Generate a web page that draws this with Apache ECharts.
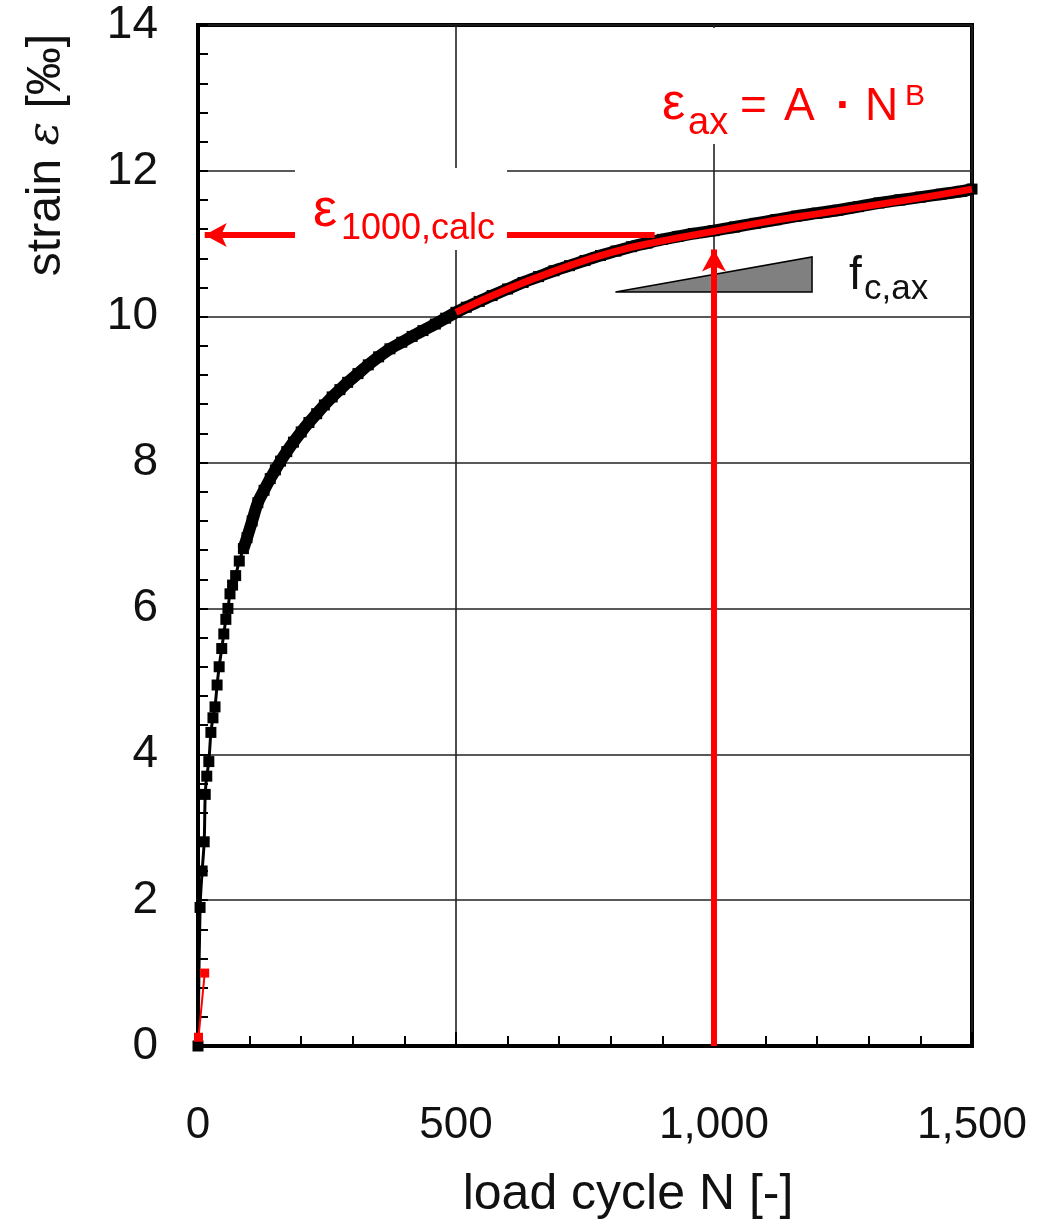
<!DOCTYPE html>
<html>
<head>
<meta charset="utf-8">
<script src="https://cdn.jsdelivr.net/npm/echarts@6/dist/echarts.min.js"></script>
<style>
  html, body { margin: 0; padding: 0; background: #fff; }
  #chart { width: 1055px; height: 1223px; }
</style>
</head>
<body>
<div id="chart"></div>
<script>
// measured load cycles N and strain (‰)
const measuredN = [0, 4, 8, 12, 14, 17, 21, 25, 29, 33, 37, 41, 46, 50, 54, 58, 62, 67, 73, 80, 88, 95, 105, 116, 128, 140, 150, 160, 172, 185, 200, 215, 230, 245, 260, 275, 290, 310, 330, 350, 372, 395, 415, 436, 460, 480, 500, 520, 545, 570, 600, 630, 660, 690, 720, 750, 780, 810, 840, 870, 900, 930, 960, 1000, 1040, 1080, 1120, 1160, 1200, 1240, 1280, 1320, 1360, 1400, 1440, 1480, 1500];
const measuredStrain = [0, 1.9, 2.4, 2.8, 3.45, 3.7, 3.9, 4.3, 4.5, 4.65, 4.95, 5.2, 5.45, 5.65, 5.85, 6.0, 6.2, 6.32, 6.45, 6.65, 6.82, 6.97, 7.2, 7.45, 7.62, 7.78, 7.9, 8.02, 8.15, 8.28, 8.42, 8.55, 8.67, 8.79, 8.9, 9.0, 9.1, 9.22, 9.34, 9.45, 9.56, 9.65, 9.73, 9.81, 9.9, 9.98, 10.06, 10.13, 10.21, 10.29, 10.38, 10.47, 10.55, 10.63, 10.7, 10.77, 10.84, 10.9, 10.96, 11.01, 11.06, 11.1, 11.14, 11.18, 11.23, 11.28, 11.33, 11.38, 11.42, 11.46, 11.51, 11.56, 11.6, 11.64, 11.68, 11.72, 11.75];
// from here on the markers merge into one thick band
const bandStart = 20;

// first readings, drawn red
const startN = [1, 13];
const startStrain = [0.12, 1.0];

// fitted curve eps_ax = A * N^B
const fitN = [500, 600, 700, 800, 900, 1000, 1100, 1200, 1300, 1400, 1500];
const fitStrain = [10.06, 10.38, 10.65, 10.88, 11.04, 11.17, 11.3, 11.41, 11.52, 11.63, 11.75];

// annotation arrows
const calcArrowN = [885, 13];
const calcArrowStrain = 11.12;
const nArrowN = 1000;
const nArrowStrain = [0, 10.92];

// slope triangle f_c,ax
const slopeTriangle = [[809, 10.34], [1190, 10.34], [1190, 10.82]];

const xTicks = [0, 500, 1000, 1500];
const yTicks = [0, 2, 4, 6, 8, 10, 12, 14];

const FONT = '"Liberation Sans", Arial, sans-serif';
const RED = '#ff0000';
const INK = '#111';

const zip = (a, b) => a.map((v, i) => [v, b[i]]);

const chart = echarts.init(document.getElementById('chart'));

const option = {
  animation: false,
  backgroundColor: '#fff',
  grid: {
    left: 198,
    top: 25,
    width: 774,
    height: 1021,
    show: true,
    borderColor: '#000',
    borderWidth: 4,
  },
  xAxis: {
    type: 'value',
    min: xTicks[0],
    max: xTicks[xTicks.length - 1],
    interval: 500,
    axisLine: { lineStyle: { color: '#000', width: 4 } },
    axisTick: { inside: true, length: 14, lineStyle: { color: '#000', width: 2 } },
    minorTick: { show: true, splitNumber: 5, length: 10, lineStyle: { color: '#000', width: 2 } },
    splitLine: { show: true, lineStyle: { color: '#222', width: 1.6 } },
    axisLabel: {
      fontSize: 44,
      fontFamily: FONT,
      color: INK,
      margin: 58,
      formatter: (v) => v.toLocaleString('en-US'),
    },
  },
  yAxis: {
    type: 'value',
    min: yTicks[0],
    max: yTicks[yTicks.length - 1],
    interval: 2,
    axisLine: { show: true, lineStyle: { color: '#000', width: 4 } },
    axisTick: { show: true, inside: true, length: 10, lineStyle: { color: '#000', width: 2 } },
    minorTick: { show: true, splitNumber: 5, length: 10, lineStyle: { color: '#000', width: 2 } },
    splitLine: { show: true, lineStyle: { color: '#222', width: 1.6 } },
    axisLabel: {
      fontSize: 46,
      fontFamily: FONT,
      color: INK,
      margin: 40,
    },
  },
  series: [
    {
      name: 'measured',
      type: 'line',
      data: zip(measuredN, measuredStrain),
      symbol: 'rect',
      symbolSize: 11,
      smooth: 0.3,
      lineStyle: { color: '#000', width: 3 },
      itemStyle: { color: '#000' },
      z: 2,
    },
    {
      // dense part of the measured curve
      name: 'measured band',
      type: 'line',
      data: zip(measuredN, measuredStrain).slice(bandStart),
      showSymbol: false,
      smooth: 0.3,
      lineStyle: { color: '#000', width: 12 },
      z: 2,
    },
    {
      name: 'start',
      type: 'line',
      data: zip(startN, startStrain),
      symbol: 'rect',
      symbolSize: 9,
      lineStyle: { color: RED, width: 2 },
      itemStyle: { color: RED },
      z: 3,
    },
    {
      name: 'fit',
      type: 'line',
      data: zip(fitN, fitStrain),
      smooth: true,
      showSymbol: false,
      lineStyle: { color: RED, width: 7 },
      z: 4,
      markLine: {
        silent: true,
        symbol: ['none', 'arrow'],
        symbolSize: [18, 22],
        label: { show: false },
        lineStyle: { color: RED, width: 6, type: 'solid' },
        data: [
          [
            { coord: [calcArrowN[0], calcArrowStrain] },
            { coord: [calcArrowN[1], calcArrowStrain] },
          ],
          [
            { coord: [nArrowN, nArrowStrain[0]] },
            { coord: [nArrowN, nArrowStrain[1]] },
          ],
        ],
      },
    },
    {
      name: 'slope',
      type: 'custom',
      data: [0],
      z: 3,
      renderItem: (params, api) => ({
        type: 'polygon',
        shape: { points: slopeTriangle.map((p) => api.coord(p)) },
        style: { fill: '#808080', stroke: '#000', lineWidth: 1.5 },
      }),
    },
  ],
  graphic: [
    // white boxes behind the labels
    { type: 'rect', z: 100, shape: { x: 295, y: 168, width: 212, height: 82 }, style: { fill: '#fff' } },
    { type: 'rect', z: 100, shape: { x: 652, y: 28, width: 285, height: 116 }, style: { fill: '#fff' } },

    // axis titles
    {
      type: 'text', z: 101, x: 47, y: 155, rotation: Math.PI / 2,
      style: {
        text: 'strain {e|ε} [‰]',
        font: '48px ' + FONT, fill: INK, align: 'center', verticalAlign: 'middle',
        rich: { e: { fontFamily: '"DejaVu Serif", serif', fontStyle: 'italic', fontSize: 44, fill: INK } },
      },
    },
    {
      type: 'text', z: 101, x: 628, y: 1195,
      style: { text: 'load cycle N [-]', font: '50px ' + FONT, fill: INK, align: 'center', verticalAlign: 'middle' },
    },

    // eps_1000,calc
    { type: 'text', z: 101, x: 313, y: 211, style: { text: 'ε', font: '54px ' + FONT, fill: RED, verticalAlign: 'middle' } },
    { type: 'text', z: 101, x: 341, y: 229, style: { text: '1000,calc', font: '36px ' + FONT, fill: RED, verticalAlign: 'middle' } },

    // eps_ax = A · N^B
    { type: 'text', z: 101, x: 662, y: 105, style: { text: 'ε', font: '52px ' + FONT, fill: RED, verticalAlign: 'middle' } },
    { type: 'text', z: 101, x: 688, y: 124, style: { text: 'ax', font: '38px ' + FONT, fill: RED, verticalAlign: 'middle' } },
    { type: 'text', z: 101, x: 740, y: 107, style: { text: '=', font: '46px ' + FONT, fill: RED, verticalAlign: 'middle' } },
    { type: 'text', z: 101, x: 784, y: 107, style: { text: 'A', font: '46px ' + FONT, fill: RED, verticalAlign: 'middle' } },
    { type: 'text', z: 101, x: 836, y: 107, style: { text: '·', font: 'bold 46px ' + FONT, fill: RED, verticalAlign: 'middle' } },
    { type: 'text', z: 101, x: 865, y: 107, style: { text: 'N', font: '46px ' + FONT, fill: RED, verticalAlign: 'middle' } },
    { type: 'text', z: 101, x: 905, y: 97, style: { text: 'B', font: '30px ' + FONT, fill: RED, verticalAlign: 'middle' } },

    // f_c,ax
    { type: 'text', z: 101, x: 849, y: 276, style: { text: 'f', font: '46px ' + FONT, fill: INK, verticalAlign: 'middle' } },
    { type: 'text', z: 101, x: 864, y: 289, style: { text: 'c,ax', font: '35px ' + FONT, fill: INK, verticalAlign: 'middle' } },
  ],
};

chart.setOption(option);
</script>
</body>
</html>
